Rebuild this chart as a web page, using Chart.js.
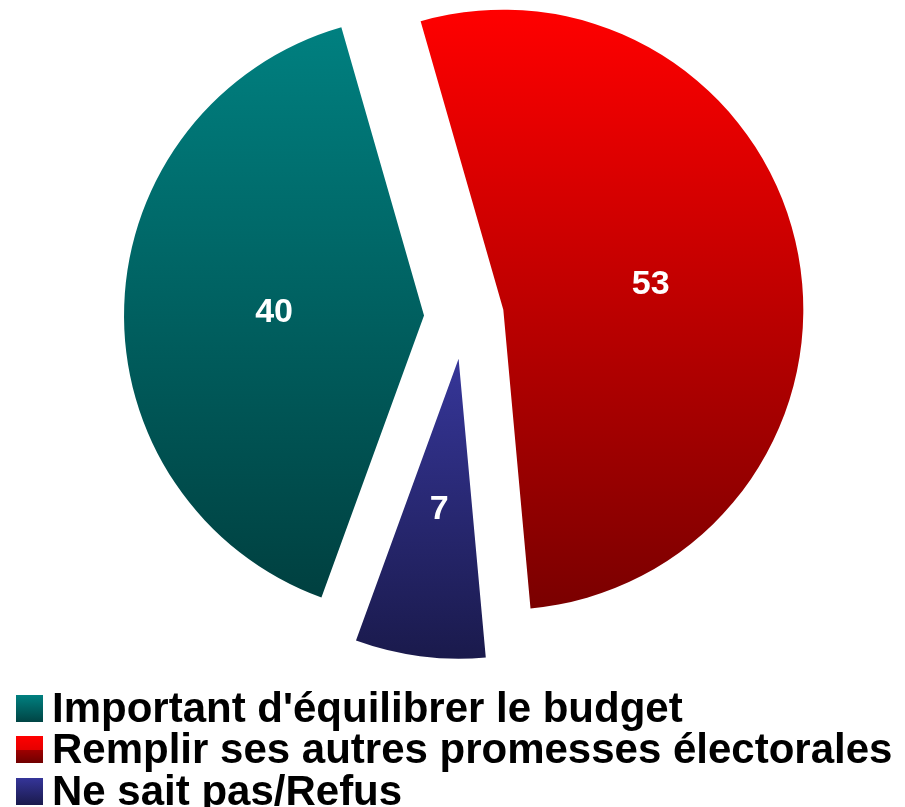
<!DOCTYPE html>
<html>
<head>
<meta charset="utf-8">
<script src="https://cdn.jsdelivr.net/npm/chart.js@4/dist/chart.umd.min.js"></script>
<style>
html, body { margin: 0; padding: 0; background: #fff; overflow: hidden; }
#wrap { position: relative; width: 905px; height: 807px; }
#c { position: absolute; left: 0; top: 0; }
#legend { position: absolute; left: 0; top: 686.7px; font: bold 42px "Liberation Sans", Arial, sans-serif; line-height: 41.5px; white-space: nowrap; color: #000; }
#legend .row { height: 41.5px; }
#legend .box { display: inline-block; width: 27px; height: 27px; margin-left: 16px; margin-right: 9px; vertical-align: baseline; }
</style>
</head>
<body>
<div id="wrap">
  <canvas id="c" width="905" height="807"></canvas>
  <div id="legend"></div>
</div>
<script>
// ---- data ----
const labels = ["Important d'équilibrer le budget", "Remplir ses autres promesses électorales", "Ne sait pas/Refus"];
const values = [40, 53, 7];

// ---- style ----
const topColors = ['#008080', '#ff0000', '#363699'];
const bottomColors = ['#004040', '#7a0000', '#1a1a4c'];
const legendGradients = [
  'linear-gradient(#008080, #004444)',
  'linear-gradient(#ff0000, #e60000 50%, #a00000 50%, #700000)',
  'linear-gradient(#353599, #1a1a4c)'
];
const explode = [40, 40, 42];

// ---- HTML legend built from the labels ----
const legendEl = document.getElementById('legend');
labels.forEach((txt, i) => {
  const row = document.createElement('div');
  row.className = 'row';
  const box = document.createElement('span');
  box.className = 'box';
  box.style.background = legendGradients[i];
  row.appendChild(box);
  row.appendChild(document.createTextNode(txt));
  legendEl.appendChild(row);
});

function inRange(a, s, e) {
  let t = a;
  while (t < s) t += Math.PI * 2;
  while (t - Math.PI * 2 >= s) t -= Math.PI * 2;
  return t <= e;
}

const explodePlugin = {
  id: 'explodeSlices',
  afterDatasetsUpdate(chart) {
    const meta = chart.getDatasetMeta(0);
    const ctx = chart.ctx;
    meta.data.forEach((arc, i) => {
      const mid = (arc.startAngle + arc.endAngle) / 2;
      arc.x += Math.cos(mid) * explode[i];
      arc.y += Math.sin(mid) * explode[i];
      const R = arc.outerRadius;
      const ys = [arc.y, arc.y + R * Math.sin(arc.startAngle), arc.y + R * Math.sin(arc.endAngle)];
      if (inRange(Math.PI / 2, arc.startAngle, arc.endAngle)) ys.push(arc.y + R);
      if (inRange(-Math.PI / 2, arc.startAngle, arc.endAngle)) ys.push(arc.y - R);
      const y0 = Math.min(...ys), y1 = Math.max(...ys);
      const g = ctx.createLinearGradient(0, y0, 0, y1);
      g.addColorStop(0, topColors[i]);
      g.addColorStop(1, bottomColors[i]);
      arc.options.backgroundColor = g;
    });
  }
};

const valueLabelPlugin = {
  id: 'valueLabels',
  afterDatasetsDraw(chart) {
    const meta = chart.getDatasetMeta(0);
    const ctx = chart.ctx;
    ctx.save();
    ctx.font = 'bold 34px "Liberation Sans", Arial, sans-serif';
    ctx.fillStyle = '#ffffff';
    ctx.textAlign = 'center';
    ctx.textBaseline = 'alphabetic';
    meta.data.forEach((arc, i) => {
      const p = arc.getCenterPoint();
      ctx.fillText(String(values[i]), p.x, p.y + 12);
    });
    ctx.restore();
  }
};

new Chart(document.getElementById('c'), {
  type: 'pie',
  data: {
    labels: labels,
    datasets: [{
      data: values,
      backgroundColor: topColors,
      borderWidth: 0,
      clip: false
    }]
  },
  options: {
    responsive: false,
    animation: false,
    rotation: 200,
    radius: 300,
    layout: { padding: { left: 23, right: 0, top: 0, bottom: 173 } },
    plugins: {
      legend: { display: false },
      tooltip: { enabled: false }
    },
    events: []
  },
  plugins: [explodePlugin, valueLabelPlugin]
});
</script>
</body>
</html>
